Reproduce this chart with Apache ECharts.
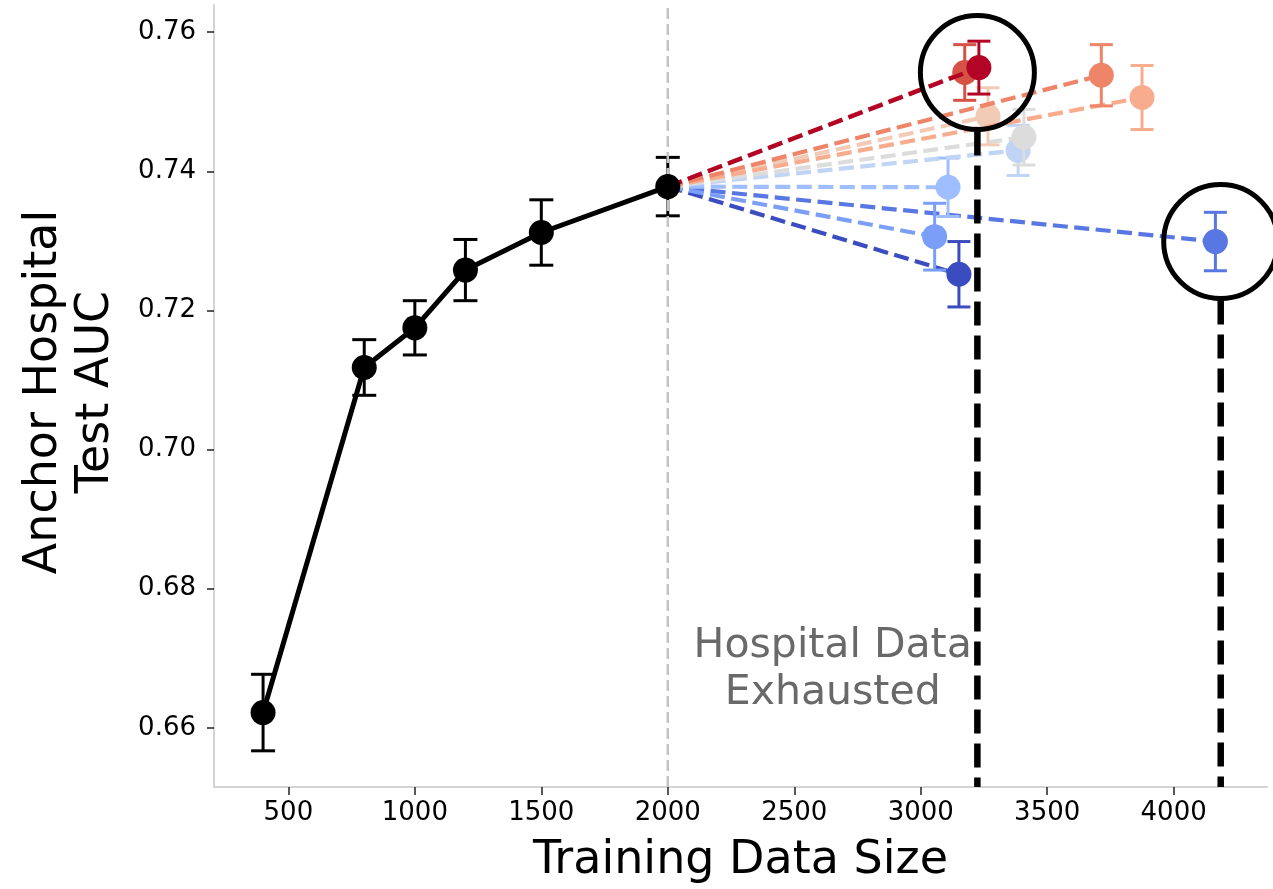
<!DOCTYPE html>
<html>
<head>
<meta charset="utf-8">
<script src="https://cdn.jsdelivr.net/npm/echarts@6/dist/echarts.min.js"></script>
<style>
html,body{margin:0;padding:0;background:#fff;}
#chart{width:1273px;height:889px;}
</style>
</head>
<body>
<div id="chart"></div>
<script>
// ---- data ----
const baseX = [400, 800, 1000, 1200, 1500, 2000];
const baseY = [0.6622, 0.7118, 0.7175, 0.7258, 0.7312, 0.7378];
const baseErr = [0.0055, 0.0040, 0.0039, 0.0044, 0.0047, 0.0042];

// added-hospital results (ordered blue -> red)
const addColors = ['#3b4cc0', '#5977e3', '#7b9ff9', '#9ebeff', '#c0d4f5', '#dddcdc', '#f2cbb7', '#f7ac8e', '#ee8468', '#d65244', '#b40426'];
const addX = [3151, 4165, 3055, 3108, 3385, 3408, 3266, 3875, 3714, 3174, 3230];
const addY = [0.7252, 0.7299, 0.7306, 0.7377, 0.7430, 0.7449, 0.7479, 0.7506, 0.7538, 0.7542, 0.7549];
const addErr = [0.0047, 0.0042, 0.0048, 0.0042, 0.0036, 0.0040, 0.0041, 0.0046, 0.0044, 0.0040, 0.0038];

// highlighted "data exhausted" points
const exhaustX = [3224, 4186];
const exhaustY = [0.7542, 0.7299];

const xTicks = [500, 1000, 1500, 2000, 2500, 3000, 3500, 4000];
const yTicks = [0.66, 0.68, 0.70, 0.72, 0.74, 0.76];
const splitX = 2000;

const annText = 'Hospital Data\nExhausted';
const annPos = [2652, 0.6683];

const X_MIN = 206, X_MAX = 4369, Y_MIN = 0.6515, Y_MAX = 0.7639;
const FONT = '"DejaVu Sans", "Noto Sans", sans-serif';

// ---- helpers ----
function errRender(color, lw, cap) {
  return function (params, api) {
    const x = api.value(0), y = api.value(1), e = api.value(2);
    const top = api.coord([x, y + e]);
    const bot = api.coord([x, y - e]);
    const style = { stroke: color, lineWidth: lw, fill: null };
    return {
      type: 'group',
      children: [
        { type: 'line', shape: { x1: top[0], y1: top[1], x2: bot[0], y2: bot[1] }, style },
        { type: 'line', shape: { x1: top[0] - cap / 2, y1: top[1], x2: top[0] + cap / 2, y2: top[1] }, style },
        { type: 'line', shape: { x1: bot[0] - cap / 2, y1: bot[1], x2: bot[0] + cap / 2, y2: bot[1] }, style }
      ]
    };
  };
}

const series = [];

// baseline error bars
series.push({
  type: 'custom', z: 3, silent: true,
  data: baseX.map((x, i) => [x, baseY[i], baseErr[i]]),
  encode: { x: 0, y: 1 },
  renderItem: errRender('#000', 3, 24)
});

// vertical split line at 2000
series.push({
  type: 'line', z: 4, silent: true, symbol: 'none',
  data: [[splitX, Y_MIN], [splitX, Y_MAX]],
  lineStyle: { color: '#c4c4c4', width: 2.5, type: [11, 5] }
});

// baseline line
series.push({
  type: 'line', z: 5, silent: true, symbol: 'none',
  data: baseX.map((x, i) => [x, baseY[i]]),
  lineStyle: { color: '#000', width: 5 }
});

const lastX = baseX[baseX.length - 1], lastY = baseY[baseY.length - 1];
addX.forEach((x, i) => {
  const z = 6 + i;
  series.push({
    type: 'line', z, silent: true, symbol: 'none',
    data: [[lastX, lastY], [x, addY[i]]],
    lineStyle: { color: addColors[i], width: 4.2, type: [15, 6.5] }
  });
  series.push({
    type: 'custom', z, silent: true,
    data: [[x, addY[i], addErr[i]]],
    encode: { x: 0, y: 1 },
    renderItem: errRender(addColors[i], 3, 23)
  });
  series.push({
    type: 'scatter', z, silent: true, symbolSize: 25,
    data: [[x, addY[i]]],
    itemStyle: { color: addColors[i], opacity: 1 }
  });
});

// baseline points on top
series.push({
  type: 'scatter', z: 30, silent: true, symbolSize: 25,
  data: baseX.map((x, i) => [x, baseY[i]]),
  itemStyle: { color: '#000', opacity: 1 }
});

// circles + thick dashed exhaustion lines
series.push({
  type: 'custom', z: 40, silent: true, clip: false,
  data: exhaustX.map((x, i) => [x, exhaustY[i]]),
  encode: { x: 0, y: 1 },
  renderItem: function (params, api) {
    const c = api.coord([api.value(0), api.value(1)]);
    const b = api.coord([api.value(0), Y_MIN]);
    const r = 57;
    return {
      type: 'group',
      children: [
        { type: 'circle', shape: { cx: c[0], cy: c[1], r }, style: { fill: null, stroke: '#000', lineWidth: 5 } },
        { type: 'line', shape: { x1: c[0], y1: c[1] + r + 2, x2: b[0], y2: b[1] },
          style: { stroke: '#000', lineWidth: 6.5, lineDash: [24, 10] } }
      ]
    };
  }
});

// annotation text
series.push({
  type: 'custom', z: 41, silent: true, clip: false,
  data: [annPos],
  encode: { x: 0, y: 1 },
  renderItem: function (params, api) {
    const p = api.coord([api.value(0), api.value(1)]);
    return {
      type: 'text',
      style: {
        text: annText, x: p[0], y: p[1],
        fontSize: 41, fontFamily: FONT, fill: '#696969',
        align: 'center', verticalAlign: 'middle', lineHeight: 47
      }
    };
  }
});

const chart = echarts.init(document.getElementById('chart'), null, { renderer: 'canvas' });
chart.setOption({
  animation: false,
  backgroundColor: '#fff',
  grid: { left: 214, right: 6, top: 5, bottom: 102, containLabel: false },
  xAxis: {
    type: 'value', min: X_MIN, max: X_MAX,
    axisLine: { show: true, onZero: false, lineStyle: { color: '#d4d4d4', width: 2 } },
    axisTick: { show: true, customValues: xTicks, length: 8, lineStyle: { color: '#222', width: 1.5 } },
    axisLabel: { customValues: xTicks, fontSize: 26, color: '#000', margin: 13, fontFamily: FONT,
      formatter: v => String(v) },
    splitLine: { show: false },
    name: 'Training Data Size', nameLocation: 'middle', nameGap: 51,
    nameTextStyle: { fontSize: 46, color: '#000', fontFamily: FONT }
  },
  yAxis: {
    type: 'value', min: Y_MIN, max: Y_MAX,
    axisLine: { show: true, onZero: false, lineStyle: { color: '#d4d4d4', width: 2 } },
    axisTick: { show: true, customValues: yTicks, length: 7, lineStyle: { color: '#222', width: 1.5 } },
    axisLabel: { customValues: yTicks, fontSize: 26, color: '#000', margin: 18, fontFamily: FONT,
      formatter: v => v.toFixed(2) },
    splitLine: { show: false }
  },
  graphic: [{
    type: 'text', x: 70, y: 392, rotation: Math.PI / 2,
    style: { text: 'Anchor Hospital\nTest AUC', fontSize: 46, fontFamily: FONT, fill: '#000',
      align: 'center', verticalAlign: 'middle', lineHeight: 52 }
  }],
  series
});
</script>
</body>
</html>
